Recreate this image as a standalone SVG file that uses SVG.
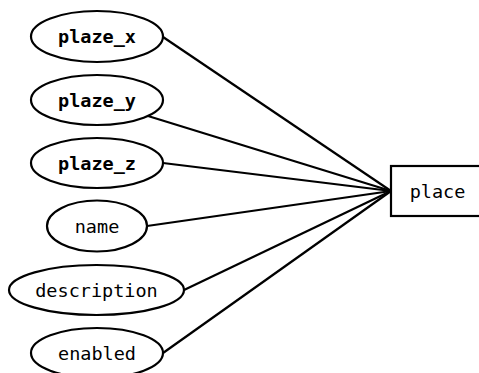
<svg xmlns="http://www.w3.org/2000/svg" width="479" height="373" viewBox="0 0 479 373">
  <style>
    .attr ellipse, .entity rect { fill: #ffffff; stroke: #000000; stroke-width: 2.2; }
    text { font-family: "DejaVu Sans Mono", "Liberation Mono", monospace; font-size: 18.5px; fill: #000000; text-anchor: middle; dominant-baseline: central; }
    .key text { font-weight: bold; }
    #edges line { stroke: #000000; stroke-width: 2.2; }
  </style>
  <rect width="479" height="373" fill="#ffffff"/>

  <!-- connectors: each attribute to the entity -->
  <g id="edges">
    <line x1="163" y1="37" x2="391" y2="191"/>
    <line x1="148" y1="116" x2="391" y2="191"/>
    <line x1="163" y1="163" x2="391" y2="191"/>
    <line x1="147" y1="226" x2="391" y2="191"/>
    <line x1="184" y1="290" x2="391" y2="191"/>
    <line x1="163" y1="353" x2="391" y2="191"/>
  </g>

  <g id="plaze_x" class="attr key">
    <ellipse cx="97" cy="36.5" rx="66" ry="25.5"/>
    <text x="97" y="36.5">plaze_x</text>
  </g>
  <g id="plaze_y" class="attr key">
    <ellipse cx="97" cy="100" rx="66" ry="25"/>
    <text x="97" y="100">plaze_y</text>
  </g>
  <g id="plaze_z" class="attr key">
    <ellipse cx="97" cy="163" rx="66" ry="25"/>
    <text x="97" y="163">plaze_z</text>
  </g>
  <g id="name" class="attr">
    <ellipse cx="97" cy="226" rx="50" ry="25.5"/>
    <text x="97" y="226">name</text>
  </g>
  <g id="description" class="attr">
    <ellipse cx="96.5" cy="290" rx="87.5" ry="25"/>
    <text x="96.5" y="290">description</text>
  </g>
  <g id="enabled" class="attr">
    <ellipse cx="97" cy="353" rx="66" ry="25"/>
    <text x="97" y="353">enabled</text>
  </g>

  <g id="place" class="entity">
    <rect x="391" y="166" width="100" height="50"/>
    <text x="437.5" y="191">place</text>
  </g>
</svg>
